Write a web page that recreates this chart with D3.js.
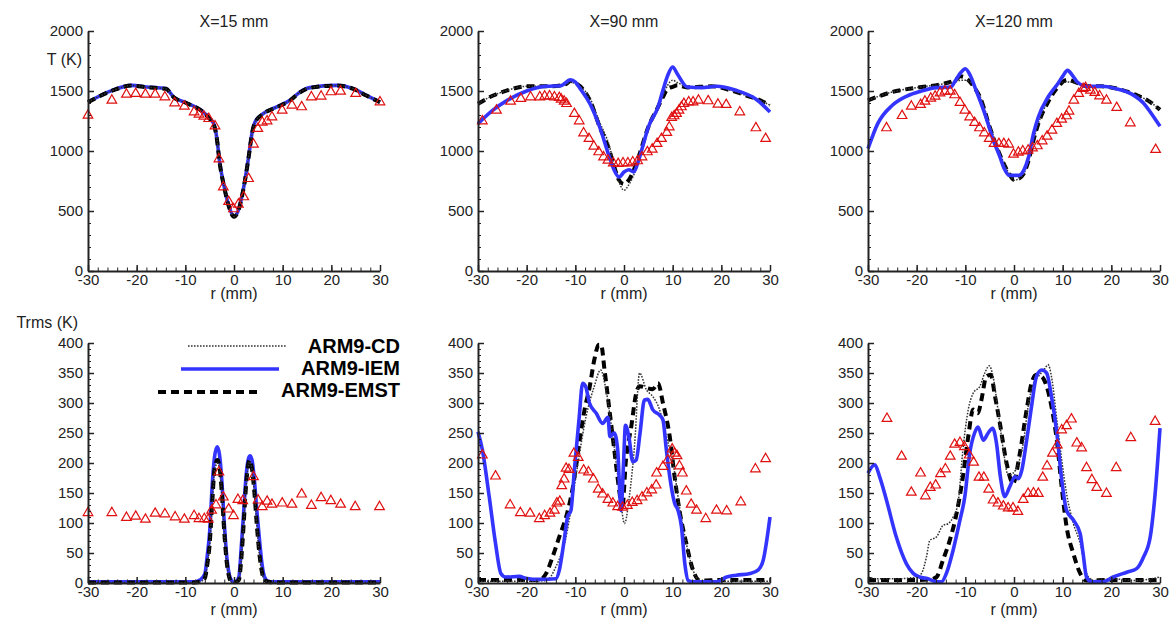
<!DOCTYPE html>
<html><head><meta charset="utf-8">
<script src="https://cdn.jsdelivr.net/npm/d3@7"></script>
<style>
body{margin:0;background:#fff;}
svg{display:block;font-family:"Liberation Sans",Arial,sans-serif;}
</style></head>
<body><svg id="c" width="1176" height="629"></svg>
<script>
// ---------------- DATA ----------------
const titles = ["X=15 mm","X=90 mm","X=120 mm"];
const seriesNames = ["ARM9-CD","ARM9-IEM","ARM9-EMST"];
const tTicks = [0,500,1000,1500,2000];
const rmsTicks = [0,50,100,150,200,250,300,350,400];
const rTicks = [-30,-20,-10,0,10,20,30];

// Panel 1: T, X=15
const p1_line_r = [-30,-25,-21,-18,-14,-12.4,-9.7,-6.3,-5,-4.2,-3.5,-3,-2,-1,0,1,2,3,3.7,4.3,6,8.8,11.5,13.6,15.6,21,24.5,27.2,30];
const p1_iem = [1408,1505,1547,1533,1520,1450,1400,1325,1270,1230,1100,922,700,533,455,519,700,950,1150,1240,1311,1367,1422,1492,1528,1547,1520,1464,1408];
const p1_emst = [1406,1503,1545,1531,1518,1448,1398,1323,1268,1226,1095,918,696,530,452,516,696,946,1145,1236,1309,1365,1420,1490,1526,1545,1518,1462,1406];
const p1_cd = [1407,1504,1546,1532,1519,1449,1399,1324,1269,1228,1098,920,698,532,454,518,698,948,1148,1238,1310,1366,1421,1491,1527,1546,1519,1463,1407];
const p1_exp_r = [-30,-25.1,-22.1,-20.2,-18.2,-16.2,-14.2,-12.2,-10.2,-8.2,-7.2,-6.2,-5.2,-3.9,-3.1,-2.2,-1.1,-0.1,0.9,2.0,3.0,4.0,4.9,5.8,6.8,7.8,9.9,11.9,13.9,15.9,17.9,19.9,21.9,25.0,30.0];
const p1_exp_t = [1297,1422,1472,1478,1472,1472,1450,1400,1372,1325,1306,1289,1269,1208,933,700,578,517,556,617,769,1056,1186,1239,1250,1283,1339,1381,1367,1450,1456,1492,1497,1478,1408];

// Panel 2: T, X=90
const p2_emst_r = [-30,-27,-24,-20,-15,-12,-11,-10,-8,-7,-5,-3,-2,-1,0,1,2,3,5,7,8,9,10,11,13,18,22,25,28,30];
const p2_emst = [1394,1460,1505,1539,1539,1556,1583,1567,1492,1422,1200,1006,867,756,725,760,839,950,1200,1367,1450,1519,1535,1547,1530,1539,1505,1464,1422,1381];
const p2_cd = [1394,1460,1505,1539,1539,1550,1575,1560,1500,1440,1240,1040,880,740,672,720,800,920,1180,1360,1460,1550,1590,1570,1535,1539,1505,1464,1422,1381];
const p2_iem_r = [-30,-27,-24,-20,-16,-13,-11,-10,-9,-7,-5,-3,-2,-1,0,1,2,3,4,5,7,8,9,10,11,13,16,19,23,27,30];
const p2_iem = [1228,1339,1422,1500,1539,1544,1594,1575,1519,1394,1200,950,839,783,825,844,825,922,1061,1200,1367,1506,1631,1700,1639,1533,1528,1539,1506,1436,1325];
const p2_exp_r = [-29.1,-26.2,-23.3,-21.2,-19.2,-17.3,-16.3,-15.3,-14.3,-13.3,-12.9,-12.3,-11.8,-10.2,-9.2,-8.3,-7.2,-6.2,-5.2,-4.2,-3.3,-2.2,-1.2,-0.2,0.8,1.8,2.8,3.7,4.8,5.8,6.8,7.7,8.8,9.3,9.8,10.3,10.8,11.3,11.8,12.3,13.3,14.2,15.3,17.3,19.3,21.0,23.8,27.1,29.1];
const p2_exp_t = [1250,1339,1414,1436,1450,1450,1456,1458,1450,1444,1431,1414,1394,1311,1250,1150,1103,1039,992,950,922,900,894,900,900,908,917,950,992,1014,1061,1103,1153,1200,1278,1292,1311,1339,1367,1394,1408,1408,1422,1417,1389,1386,1325,1192,1103];

// Panel 3: T, X=120
const p3_emst_r = [-30,-25,-20,-15,-12,-11,-10,-8,-7,-5,-3,-1,0,1,2,3,4,5,7,9,11,13,15,18,22,25,28,30];
const p3_emst = [1422,1492,1528,1556,1594,1622,1611,1519,1450,1200,978,811,760,769,811,922,1089,1228,1408,1533,1594,1567,1539,1539,1511,1469,1408,1344];
const p3_cd = [1422,1492,1528,1556,1575,1590,1590,1530,1460,1220,990,811,756,769,811,922,1089,1228,1420,1560,1575,1565,1539,1539,1511,1469,1408,1344];
const p3_iem_r = [-30,-28,-25,-22,-19,-16,-13,-12,-11,-10,-9,-8,-6,-4,-3,-2,-1,0,1,2,3,4,5,7,9,10,11,12,13,15,18,21,24,27,28,30];
const p3_iem = [1019,1228,1381,1458,1500,1528,1533,1589,1650,1686,1631,1528,1311,1061,964,853,797,797,797,839,950,1144,1283,1450,1561,1622,1672,1631,1575,1539,1539,1519,1478,1381,1325,1206];
const p3_exp_r = [-26.2,-23.0,-21.1,-19.2,-18.3,-17.1,-16.2,-15.2,-14.2,-13.1,-12.2,-11.1,-10.1,-9.1,-8.1,-7.1,-6.1,-5.1,-4.1,-3.1,-2.1,-1.1,-0.1,0.9,1.8,2.9,3.8,4.8,5.8,6.8,7.8,8.8,9.8,10.8,11.3,12.3,13.3,14.2,14.7,15.7,16.6,17.6,19.0,21.1,23.9,29.1];
const p3_exp_t = [1192,1294,1372,1386,1414,1439,1456,1483,1497,1497,1467,1403,1339,1283,1236,1192,1150,1103,1061,1061,1061,1056,972,989,1000,1006,1025,1042,1083,1122,1172,1228,1264,1292,1331,1422,1478,1519,1528,1506,1486,1458,1422,1361,1233,1011];

// Panel 4: Trms, X=15
const p4_iem_r = [-30,-8,-7,-6,-5.5,-5,-4.5,-4,-3.45,-3,-2.5,-2,-1.5,-1,-0.5,0,0.5,1,1.5,2,2.5,3,3.3,3.7,4.2,4.7,5.2,5.7,6.2,7,8,30];
const p4_iem = [2,2,5,15,45,85,160,210,227,215,170,100,45,15,4,1,3,10,60,120,180,208,212,205,170,120,75,35,12,3,2,2];
const p4_emst_r = [-30,-8,-7,-6,-5.5,-5,-4.5,-4,-3.4,-3,-2.5,-2,-1.5,-1,-0.5,0,0.5,1,1.5,2,2.5,3.2,3.7,4.2,4.7,5.2,5.7,6.2,7,8,30];
const p4_emst = [1,1,2,8,30,65,130,190,205,195,150,85,35,10,2,1,2,5,40,100,165,205,190,150,95,50,20,6,2,1,1];
const p4_cd = [1,1,2,8,30,62,126,186,200,192,148,84,34,10,2,1,2,5,38,98,162,202,188,148,94,48,19,6,2,1,1];
const p4_exp_r = [-30,-25.1,-22.1,-20.2,-18.2,-16.2,-14.2,-12.1,-10.2,-8.2,-7.2,-6.1,-5.3,-4.6,-3.7,-3.1,-2.2,-1.1,-0.1,0.8,1.8,4.0,4.95,5.8,6.8,7.8,9.9,11.9,13.9,15.9,17.9,19.9,21.9,24.9,29.9];
const p4_exp_t = [117,117,109,111,106,116,115,110,106,112,107,107,106,121,130,185,143,123,112,139,137,177,138,127,136,131,133,131,148,129,142,137,131,127,127];

// Panel 5: Trms, X=90
const p5_iem_r = [-30,-29.1,-27.7,-26.4,-25.3,-24.3,-21.5,-20.2,-17.4,-14.0,-13.3,-12.3,-11.6,-10.9,-10.2,-9.2,-8.5,-7.9,-7.1,-5.7,-4.4,-3.3,-2.9,-2.0,-1.3,-0.6,-0.1,0.3,1.0,1.8,2.5,3.3,4.2,4.9,5.9,7.3,8.0,8.7,9.4,10.4,11.1,11.8,12.5,13.2,14.2,19.0,21.1,23.1,25.9,27.6,28.6,30];
const p5_iem = [252,222,144,66,16,10,11,8,6,7,21,71,110,121,188,277,333,328,300,283,266,276,244,250,222,121,199,263,244,202,205,250,305,306,289,280,272,222,177,133,121,94,32,4,2,2,10,13,16,22,38,110];
const p5_emst_r = [-30,-20,-17.4,-16.0,-14.7,-13.3,-11.9,-10.5,-9.2,-8.1,-7.1,-6.1,-5.2,-4.7,-4.0,-3.0,-2.0,-0.9,-0.4,0.4,1.5,2.5,3.2,4.6,5.9,7.0,8.0,9.4,10.4,11.4,12.8,14.2,15.6,20,25,30];
const p5_emst = [5,5,5,16,43,77,110,160,233,289,325,372,397,397,355,289,222,149,121,205,261,316,328,325,323,333,300,244,177,121,66,21,4,5,5,5];
const p5_cd_r = [-30,-20,-16,-14,-11.9,-9.9,-7.8,-6.1,-4.8,-3.7,-2.3,-0.9,0.1,1.1,2.2,3.2,4.6,5.9,7.3,8.7,10.1,11.4,12.8,14.2,15.6,20,25,30];
const p5_cd = [3,3,4,27,77,177,277,328,355,322,244,155,99,144,233,350,322,311,289,244,199,127,66,21,4,3,3,3];
const p5_exp_r = [-29.1,-26.4,-23.4,-21.3,-19.3,-17.4,-16.3,-15.2,-14.3,-13.8,-13.2,-12.8,-12.3,-11.9,-11.3,-10.3,-9.4,-8.3,-7.3,-6.3,-5.3,-4.4,-3.3,-2.3,-1.3,-0.3,0.7,1.7,2.7,3.7,4.7,5.7,6.6,6.7,8.0,9.0,9.9,10.4,10.9,11.4,12.0,12.8,13.8,14.9,16.8,19.0,21.1,24.0,27.0,29.1];
const p5_exp_t = [213,178,130,117,116,107,112,116,121,133,136,162,173,191,189,216,209,188,185,173,156,148,139,133,127,126,129,134,137,143,150,155,163,183,194,205,223,216,212,195,183,153,131,121,107,121,120,135,190,207];

// Panel 6: Trms, X=120
const p6_iem_r = [-30,-28.6,-27.6,-26.2,-24.2,-22.1,-20.7,-19.4,-17.7,-15.9,-14.9,-13.9,-12.5,-11.1,-10.1,-9.1,-8.1,-7.4,-6.3,-5.3,-4.4,-3.6,-2.8,-1.9,-0.9,0.2,0.9,1.6,2.6,3.6,4.6,5.7,6.7,7.7,8.8,9.8,10.8,12.2,13.6,14.2,14.9,16.0,18.4,20.4,23.2,25.2,26.6,28.0,29.0,30];
const p6_iem = [183,197,177,138,77,32,16,10,7,2,2,16,55,105,144,216,250,260,238,250,258,233,177,144,160,177,174,188,238,294,344,355,350,311,250,172,121,105,82,49,10,2,2,10,18,24,43,77,149,258];
const p6_emst_r = [-30,-25,-20,-17.3,-15.9,-14.6,-13.2,-11.8,-10.5,-9.4,-8.4,-7.4,-6.7,-5.7,-4.8,-3.9,-2.9,-1.5,-0.2,1.2,2.6,3.6,4.6,5.7,6.7,7.7,8.8,9.8,10.8,12.2,13.6,14.9,20,25,30];
const p6_emst = [5,5,5,6,10,38,71,116,177,244,289,283,305,344,347,311,266,199,166,216,289,333,347,344,328,294,238,160,94,49,16,4,5,5,5];
const p6_cd_r = [-30,-28,-24,-20,-19,-18.0,-17.3,-15.9,-14.6,-13.5,-12.5,-11.5,-10.5,-9.4,-8.4,-7.0,-6.0,-5.1,-4.3,-3.3,-2.2,-1.2,-0.2,0.9,1.9,2.9,4.0,5.0,6.4,7.0,7.7,8.8,9.8,10.8,12.2,13.6,14.9,16.3,20,25,30];
const p6_cd = [10,7,7,10,16,43,71,77,96,99,110,133,222,289,316,328,350,362,344,289,222,180,183,199,233,294,333,344,358,364,344,272,205,149,99,66,16,4,7,4,10];
const p6_exp_r = [-26.1,-23.1,-21.1,-19.2,-18.2,-17.2,-16.1,-15.1,-14.1,-13.1,-12.2,-11.1,-10.2,-9.2,-8.3,-7.2,-6.2,-5.2,-4.3,-3.3,-2.2,-1.2,-0.2,0.8,1.9,2.9,4.0,5.0,5.9,6.8,7.9,8.9,9.8,10.8,11.8,12.9,13.9,14.9,16.0,17.0,19.0,21.0,24.0,29.0];
const p6_exp_t = [274,211,151,183,145,159,163,182,190,211,231,234,227,213,201,176,176,156,138,133,128,125,125,119,139,149,150,149,176,195,216,230,255,262,273,233,225,192,172,159,149,192,242,269];

// ---------------- LAYOUT ----------------
const W = 292, H = 240;
const colLeft = [88, 478, 868];
const rowTop = [31, 343];
const BLUE = "#3434ff", RED = "#e01010", AX = "#222";

const panels = [
  {row:0,col:0,dom:[0,2000],major:tTicks,minorStep:100,exp:[p1_exp_r,p1_exp_t],
   lines:[{k:"iem",r:p1_line_r,v:p1_iem},{k:"emst",r:p1_line_r,v:p1_emst},{k:"cd",r:p1_line_r,v:p1_cd}]},
  {row:0,col:1,dom:[0,2000],major:tTicks,minorStep:100,exp:[p2_exp_r,p2_exp_t],
   lines:[{k:"emst",r:p2_emst_r,v:p2_emst},{k:"cd",r:p2_emst_r,v:p2_cd},{k:"iem",r:p2_iem_r,v:p2_iem}]},
  {row:0,col:2,dom:[0,2000],major:tTicks,minorStep:100,exp:[p3_exp_r,p3_exp_t],
   lines:[{k:"emst",r:p3_emst_r,v:p3_emst},{k:"cd",r:p3_emst_r,v:p3_cd},{k:"iem",r:p3_iem_r,v:p3_iem}]},
  {row:1,col:0,dom:[0,400],major:rmsTicks,minorStep:10,exp:[p4_exp_r,p4_exp_t],
   lines:[{k:"iem",r:p4_iem_r,v:p4_iem},{k:"emst",r:p4_emst_r,v:p4_emst},{k:"cd",r:p4_emst_r,v:p4_cd}]},
  {row:1,col:1,dom:[0,400],major:rmsTicks,minorStep:10,exp:[p5_exp_r,p5_exp_t],
   lines:[{k:"emst",r:p5_emst_r,v:p5_emst},{k:"cd",r:p5_cd_r,v:p5_cd},{k:"iem",r:p5_iem_r,v:p5_iem}]},
  {row:1,col:2,dom:[0,400],major:rmsTicks,minorStep:10,exp:[p6_exp_r,p6_exp_t],
   lines:[{k:"emst",r:p6_emst_r,v:p6_emst},{k:"cd",r:p6_cd_r,v:p6_cd},{k:"iem",r:p6_iem_r,v:p6_iem}]}
];

const styles = {
  cd:{stroke:"#333",width:1.5,dash:"1.6,1.4"},
  iem:{stroke:BLUE,width:3.6,dash:null},
  emst:{stroke:"#000",width:4,dash:"8,5"}
};
const fmt = d => String(d);

const svg = d3.select("#c");

panels.forEach(p=>{
  const L = colLeft[p.col], T = rowTop[p.row];
  const x = d3.scaleLinear().domain([-30,30]).range([L, L+W]);
  const y = d3.scaleLinear().domain(p.dom).range([T+H, T]);
  const g = svg.append("g");

  // lines
  p.lines.forEach(s=>{
    const st = styles[s.k];
    const pts = s.r.map((r,i)=>[r, s.v[i]]);
    g.append("path").datum(pts)
      .attr("d", d3.line().x(d=>x(d[0])).y(d=>y(d[1])).curve(d3.curveMonotoneX))
      .attr("fill","none").attr("stroke",st.stroke).attr("stroke-width",st.width)
      .attr("stroke-dasharray",st.dash).attr("stroke-linejoin","round");
  });

  // experimental triangles
  const tri = d3.symbol().type(d3.symbolTriangle).size(40);
  g.selectAll(".exp").data(p.exp[0].map((r,i)=>[r,p.exp[1][i]])).enter()
    .append("path")
    .attr("transform", d=>`translate(${x(d[0])},${y(d[1])})`)
    .attr("d", tri)
    .attr("fill","none").attr("stroke",RED).attr("stroke-width",1.2);

  // minor ticks
  const minorY = d3.range(p.dom[0], p.dom[1]+0.001, p.minorStep);
  g.append("g").attr("transform",`translate(${L},0)`)
    .call(d3.axisLeft(y).tickValues(minorY).tickSizeInner(-3).tickSizeOuter(0).tickFormat(""))
    .call(a=>a.select(".domain").remove())
    .call(a=>a.selectAll("line").attr("stroke",AX).attr("stroke-width",1));
  g.append("g").attr("transform",`translate(0,${T+H})`)
    .call(d3.axisBottom(x).tickValues(d3.range(-30,30.001,2)).tickSizeInner(-3.5).tickSizeOuter(0).tickFormat(""))
    .call(a=>a.select(".domain").remove())
    .call(a=>a.selectAll("line").attr("stroke",AX).attr("stroke-width",1));

  // major axes
  const ya = g.append("g").attr("transform",`translate(${L},0)`)
    .call(d3.axisLeft(y).tickValues(p.major).tickFormat(fmt).tickSizeInner(-6).tickSizeOuter(0).tickPadding(5));
  const xa = g.append("g").attr("transform",`translate(0,${T+H})`)
    .call(d3.axisBottom(x).tickValues(rTicks).tickFormat(fmt).tickSizeInner(-6).tickSizeOuter(0).tickPadding(3));
  [ya,xa].forEach(a=>{
    a.select(".domain").attr("stroke",AX).attr("stroke-width",2);
    a.selectAll(".tick line").attr("stroke",AX).attr("stroke-width",1.5);
    a.selectAll("text").attr("font-size",15).attr("fill",AX)
      .attr("font-family",'"Liberation Sans",Arial,sans-serif');
  });

  // x-axis title
  svg.append("text").attr("x",L+W/2).attr("y",T+H+(p.row===0?28:32))
    .attr("text-anchor","middle").attr("font-size",16).attr("fill",AX).text("r (mm)");
  if(p.row===0){
    svg.append("text").attr("x",L+W/2).attr("y",27)
      .attr("text-anchor","middle").attr("font-size",16).attr("fill",AX).text(titles[p.col]);
  }
});

// y-axis titles
svg.append("text").attr("x",82).attr("y",65).attr("text-anchor","end")
  .attr("font-size",16).attr("fill",AX).text("T (K)");
svg.append("text").attr("x",78).attr("y",328).attr("text-anchor","end")
  .attr("font-size",16).attr("fill",AX).text("Trms (K)");

// legend
const legend = [
  {k:"cd", y:346, x0:188, x1:286, ty:353},
  {k:"iem", y:369, x0:181, x1:279, ty:375},
  {k:"emst", y:392, x0:158, x1:257, ty:397}
];
legend.forEach((l,i)=>{
  const st = styles[l.k];
  svg.append("line").attr("x1",l.x0).attr("x2",l.x1).attr("y1",l.y).attr("y2",l.y)
    .attr("stroke",st.stroke).attr("stroke-width",st.width).attr("stroke-dasharray",st.dash);
  svg.append("text").attr("x",400).attr("y",l.ty).attr("text-anchor","end")
    .attr("font-size",20).attr("font-weight","bold").attr("fill","#000").text(seriesNames[i]);
});
</script></body></html>
